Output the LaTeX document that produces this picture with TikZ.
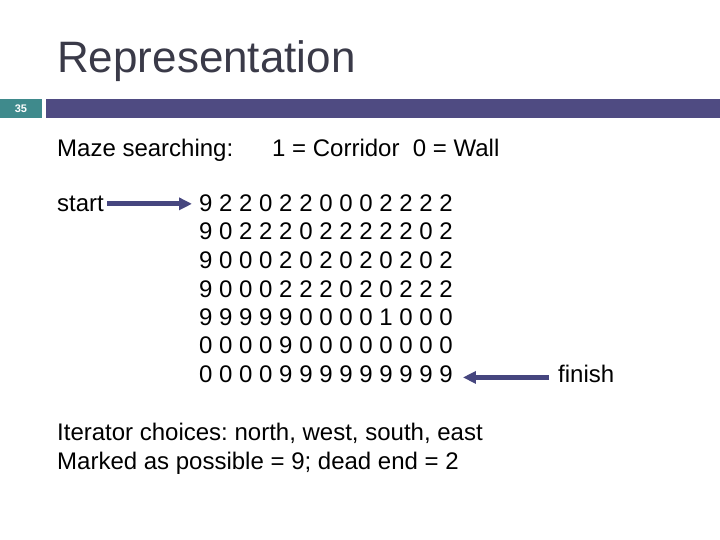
\documentclass[tikz,border=0pt]{standalone}
\usepackage{fontspec}
\setmainfont{Liberation Sans}
\usetikzlibrary{arrows.meta}
\frenchspacing
\definecolor{titlecol}{HTML}{3A3A48}
\definecolor{tealbox}{HTML}{3F8A8C}
\definecolor{barcol}{HTML}{4F4B82}
\definecolor{arrowcol}{HTML}{46467F}
\tikzset{
  txt/.style={inner sep=0pt, anchor=base west, font=\fontsize{24}{28}\selectfont},
  rowtxt/.style={txt},
  bigarrow/.style={draw=arrowcol, line width=5pt, -{Triangle[length=13pt,width=12pt]}}
}
\begin{document}
\begin{tikzpicture}[x=1pt,y=-1pt]
\useasboundingbox (0,0) rectangle (720,540);
% header
\node[inner sep=0pt, anchor=base west, font=\fontsize{44}{50}\selectfont, text=titlecol] (title) at (57,73) {Representation};
\fill[tealbox] (0,99.5) rectangle (42,118.5);
\fill[barcol] (46,99.5) rectangle (720,118.5);
\node[font=\fontsize{11}{12}\selectfont\bfseries, text=white, inner sep=0pt] (num) at (21,108.5) {35};
% body
\node[txt] (maze) at (57,157) {Maze searching:};
\node[txt] (legend) at (272,157) {1 = Corridor\ \ 0 = Wall};
\node[txt] (start) at (57,211.5) {start};
\node[txt] (finish) at (558,382) {finish};
\node[rowtxt] (r1) at (199,211.5) {9 2 2 0 2 2 0 0 0 2 2 2 2};
\node[rowtxt] (r2) at (199,240) {9 0 2 2 2 0 2 2 2 2 2 0 2};
\node[rowtxt] (r3) at (199,268.5) {9 0 0 0 2 0 2 0 2 0 2 0 2};
\node[rowtxt] (r4) at (199,297) {9 0 0 0 2 2 2 0 2 0 2 2 2};
\node[rowtxt] (r5) at (199,325) {9 9 9 9 9 0 0 0 0 1 0 0 0};
\node[rowtxt] (r6) at (199,353.5) {0 0 0 0 9 0 0 0 0 0 0 0 0};
\node[rowtxt] (r7) at (199,382) {0 0 0 0 9 9 9 9 9 9 9 9 9};
\node[txt] (iter) at (57,440) {Iterator choices: north, west, south, east};
\node[txt] (mark) at (57,469) {Marked as possible = 9; dead end = 2};
% arrows
\draw[bigarrow, shorten <=3pt, shorten >=7pt] (start.east) -- (r1.west |- start.east);
\draw[bigarrow, shorten <=9pt, shorten >=10pt] ([yshift=-4pt]finish.west) -- ([yshift=-4pt]r7.east |- finish.west);
\end{tikzpicture}
\end{document}
